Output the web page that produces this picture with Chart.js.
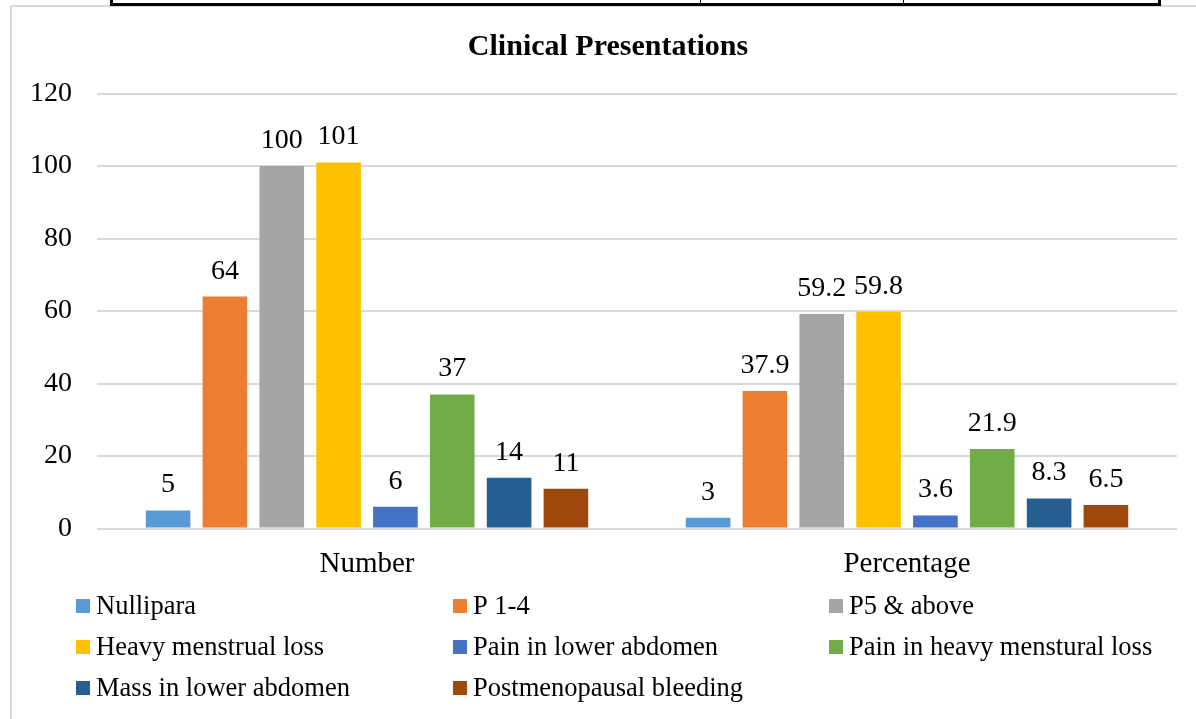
<!DOCTYPE html>
<html>
<head>
<meta charset="utf-8">
<script src="https://cdn.jsdelivr.net/npm/chart.js@4.4.1/dist/chart.umd.min.js"></script>
<style>
  html, body { margin: 0; padding: 0; background: #fff; }
  #wrap { position: relative; width: 1196px; height: 719px; overflow: hidden; background: #fff; }
  #frame { position: absolute; left: 10px; top: 5px; width: 1300px; height: 800px;
           border-left: 2px solid #d9d9d9; border-top: 2px solid #d9d9d9; box-sizing: border-box; }
  canvas { position: absolute; left: 0; top: 0; }
  .rule { position: absolute; background: #000; }
  #fontwarm { position: absolute; left: -9999px; top: 0; font-family: "Liberation Serif"; font-size: 28px; }
  #fontwarm b { font-weight: bold; }
</style>
</head>
<body>
<div id="wrap">
  <div id="frame"></div>
  <canvas id="chart" width="1196" height="719"></canvas>
  <!-- bottom edge of the table above the chart -->
  <div class="rule" style="left:110px; top:0; width:3px; height:6px;"></div>
  <div class="rule" style="left:110px; top:3px; width:1051px; height:3px;"></div>
  <div class="rule" style="left:700px; top:0; width:1px; height:4px;"></div>
  <div class="rule" style="left:903px; top:0; width:1px; height:4px;"></div>
  <div class="rule" style="left:1158px; top:0; width:3px; height:6px;"></div>
</div>
<div id="fontwarm">Aa <b>Aa</b></div>
<script>
// Categories and series
const categories = ["Number", "Percentage"];
const seriesNames = [
  "Nullipara", "P 1-4", "P5 & above",
  "Heavy menstrual loss", "Pain in lower abdomen", "Pain in heavy menstural loss",
  "Mass in lower abdomen", "Postmenopausal bleeding"
];
const nullipara = [5, 3];
const p14 = [64, 37.9];
const p5above = [100, 59.2];
const heavyLoss = [101, 59.8];
const painLower = [6, 3.6];
const painHeavy = [37, 21.9];
const massLower = [14, 8.3];
const postmeno = [11, 6.5];
const seriesValues = [nullipara, p14, p5above, heavyLoss, painLower, painHeavy, massLower, postmeno];
const seriesColors = ["#5B9BD5", "#ED7D31", "#A5A5A5", "#FFC000", "#4472C4", "#70AD47", "#255E91", "#9E480E"];
const yTicks = [0, 20, 40, 60, 80, 100, 120];

const FONT = '"Liberation Serif", "DejaVu Serif", serif';

// Value labels above each bar
const valueLabels = {
  id: 'valueLabels',
  afterDatasetsDraw(chart) {
    const ctx = chart.ctx;
    ctx.save();
    ctx.font = "28px " + FONT;
    ctx.fillStyle = "#000";
    ctx.textAlign = "center";
    ctx.textBaseline = "alphabetic";
    chart.data.datasets.forEach((ds, i) => {
      const meta = chart.getDatasetMeta(i);
      meta.data.forEach((bar, j) => {
        ctx.fillText(String(ds.data[j]), bar.x, bar.y - 18);
      });
    });
    ctx.restore();
  }
};

// Chart title
const titleText = {
  id: 'titleText',
  afterDraw(chart) {
    const ctx = chart.ctx;
    ctx.save();
    ctx.font = "bold 30px " + FONT;
    ctx.fillStyle = "#000";
    ctx.textAlign = "center";
    ctx.textBaseline = "alphabetic";
    ctx.fillText("Clinical Presentations", 608, 55);
    ctx.restore();
  }
};

// Three-column legend under the plot
const gridLegend = {
  id: 'gridLegend',
  afterDraw(chart) {
    const ctx = chart.ctx;
    const colX = [76, 453, 829];
    const rowY = [606, 647, 688];
    ctx.save();
    ctx.font = "26.5px " + FONT;
    ctx.textBaseline = "middle";
    ctx.textAlign = "left";
    chart.data.datasets.forEach((ds, i) => {
      const x = colX[i % 3];
      const y = rowY[Math.floor(i / 3)];
      ctx.fillStyle = ds.backgroundColor;
      ctx.fillRect(x, y - 7, 14, 14);
      ctx.fillStyle = "#000";
      ctx.fillText(ds.label, x + 20, y + 1);
    });
    ctx.restore();
  }
};

function build() {
  new Chart(document.getElementById('chart'), {
    type: 'bar',
    data: {
      labels: categories,
      datasets: seriesNames.map((name, i) => ({
        label: name,
        data: seriesValues[i],
        backgroundColor: seriesColors[i],
        categoryPercentage: 0.842,
        barPercentage: 0.785
      }))
    },
    options: {
      responsive: false,
      animation: false,
      devicePixelRatio: 1,
      layout: { padding: { left: 0, right: 19, top: 93.5, bottom: 0 } },
      plugins: {
        legend: { display: false },
        title: { display: false },
        tooltip: { enabled: false }
      },
      scales: {
        x: {
          grid: { display: false, drawTicks: false },
          border: { display: false },
          ticks: { color: "#000", font: { family: FONT, size: 29 }, padding: 18 },
          afterFit(scale) { scale.height = 719 - 528.5; }
        },
        y: {
          min: 0,
          max: 120,
          afterBuildTicks(scale) { scale.ticks = yTicks.map(v => ({ value: v })); },
          grid: { color: "#d9d9d9", lineWidth: 2, drawTicks: false },
          border: { display: false },
          ticks: { color: "#000", font: { family: FONT, size: 28 }, padding: 25 },
          afterFit(scale) { scale.width = 97; }
        }
      }
    },
    plugins: [valueLabels, titleText, gridLegend]
  });
}

Promise.all([
  document.fonts.load('28px "Liberation Serif"'),
  document.fonts.load('bold 28px "Liberation Serif"')
]).then(build, build);
</script>
</body>
</html>
